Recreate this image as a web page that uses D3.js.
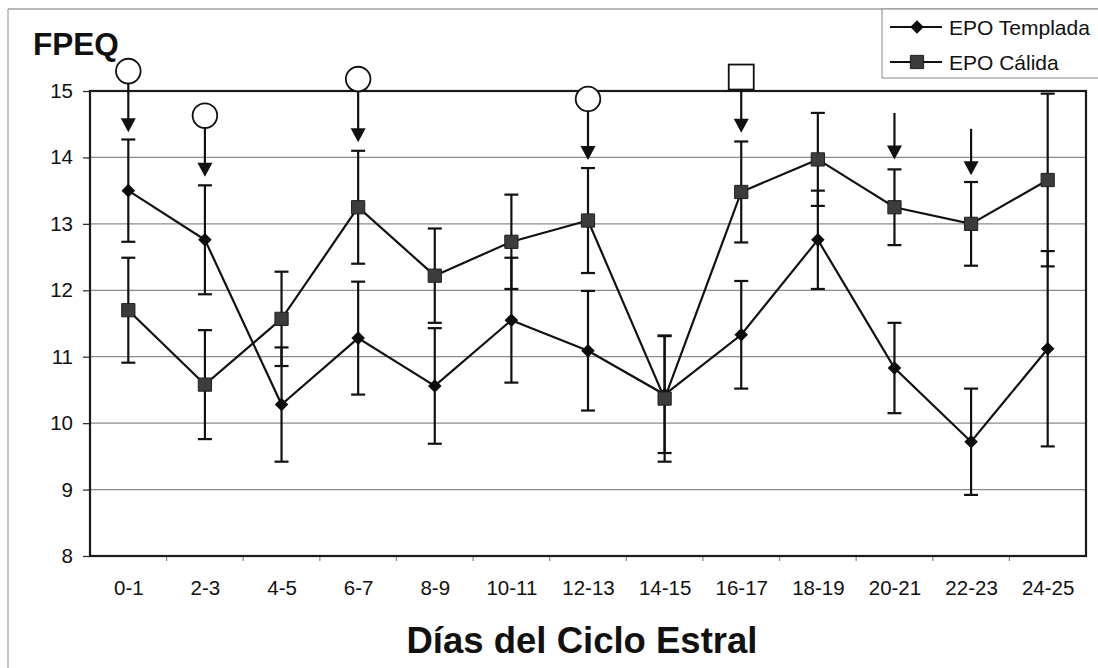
<!DOCTYPE html>
<html>
<head>
<meta charset="utf-8">
<script src="https://cdn.jsdelivr.net/npm/d3@7"></script>
<style>
  html, body { margin: 0; padding: 0; background: #fff; }
  svg { display: block; font-family: "Liberation Sans", Arial, sans-serif; }
</style>
</head>
<body>
<svg id="chart" width="1098" height="668"></svg>
<script>
// ---- data ----
const categories = ["0-1","2-3","4-5","6-7","8-9","10-11","12-13","14-15","16-17","18-19","20-21","22-23","24-25"];
const templada    = [13.50, 12.76, 10.28, 11.28, 10.56, 11.55, 11.09, 10.43, 11.33, 12.76, 10.83, 9.72, 11.12];
const templadaErr = [0.77, 0.82, 0.86, 0.85, 0.87, 0.94, 0.90, 0.88, 0.81, 0.74, 0.68, 0.80, 1.47];
const calida      = [11.70, 10.58, 11.57, 13.25, 12.22, 12.73, 13.05, 10.37, 13.48, 13.97, 13.25, 13.00, 13.66];
const calidaErr   = [0.79, 0.82, 0.71, 0.85, 0.71, 0.71, 0.79, 0.95, 0.76, 0.70, 0.57, 0.63, 1.30];
const yTicks = [8, 9, 10, 11, 12, 13, 14, 15];
const seriesNames = ["EPO Templada", "EPO Cálida"];
// significance annotations (value units)
const annotCats  = ["0-1","2-3","6-7","12-13","16-17","20-21","22-23"];
const annotShape = ["circle","circle","circle","circle","square","none","none"];
const annotTop   = [15.30, 14.63, 15.18, 14.88, 15.21, 14.67, 14.43];
const annotTip   = [14.38, 13.71, 14.23, 13.96, 14.37, 13.97, 13.73];

// ---- layout ----
const svg = d3.select("#chart");
const mLeft = 90, mRight = 1086, mTop = 91, mBottom = 556;
const ink = "#111";
const sw = 2.2;

const x = d3.scalePoint().domain(categories).range([mLeft, mRight]).padding(0.5);
const step = x.step();
const y = d3.scaleLinear().domain([8, 15]).range([mBottom, mTop]);

// outer chart frame (faint)
svg.append("line").attr("x1", 8).attr("x2", 8).attr("y1", 9).attr("y2", 668)
  .attr("stroke", "#b5b5b5").attr("stroke-width", 1.5);
svg.append("line").attr("x1", 8).attr("x2", 1098).attr("y1", 9).attr("y2", 9)
  .attr("stroke", "#a0a0a0").attr("stroke-width", 1.5);

// gridlines
svg.append("g").selectAll("line").data(yTicks.filter(t => t > 8 && t < 15)).join("line")
  .attr("x1", mLeft).attr("x2", mRight)
  .attr("y1", d => y(d)).attr("y2", d => y(d))
  .attr("stroke", "#8c8c8c").attr("stroke-width", 1.3);

// y axis
const yAxis = svg.append("g").attr("transform", `translate(${mLeft},0)`)
  .call(d3.axisLeft(y).tickValues(yTicks).tickSize(7).tickPadding(10).tickFormat(d3.format("d")));
yAxis.select(".domain").remove();
yAxis.selectAll(".tick line").attr("stroke", "#333").attr("stroke-width", 1.3);
yAxis.selectAll("text").attr("font-size", 20.5).attr("fill", ink)
  .attr("font-family", "'Liberation Sans', Arial, sans-serif");

// x axis
const xAxis = svg.append("g").attr("transform", `translate(0,${mBottom})`)
  .call(d3.axisBottom(x).tickSize(0).tickPadding(24));
xAxis.select(".domain").remove();
xAxis.selectAll("text").attr("font-size", 20.5).attr("fill", ink)
  .attr("font-family", "'Liberation Sans', Arial, sans-serif");
// small ticks at category boundaries
svg.append("g").selectAll("line").data(categories.slice(1)).join("line")
  .attr("x1", d => x(d) - step / 2).attr("x2", d => x(d) - step / 2)
  .attr("y1", mBottom).attr("y2", mBottom + 5)
  .attr("stroke", "#888").attr("stroke-width", 1.2);

// plot frame
svg.append("rect").attr("x", mLeft).attr("y", mTop).attr("width", mRight - mLeft).attr("height", mBottom - mTop)
  .attr("fill", "none").attr("stroke", "#1a1a1a").attr("stroke-width", 2.2);

// error bars
function errorBars(vals, errs) {
  const g = svg.append("g").attr("stroke", ink).attr("stroke-width", sw);
  categories.forEach((c, i) => {
    const cx = x(c), hi = y(vals[i] + errs[i]), lo = y(vals[i] - errs[i]);
    g.append("line").attr("x1", cx).attr("x2", cx).attr("y1", hi).attr("y2", lo);
    g.append("line").attr("x1", cx - 7).attr("x2", cx + 7).attr("y1", hi).attr("y2", hi);
    g.append("line").attr("x1", cx - 7).attr("x2", cx + 7).attr("y1", lo).attr("y2", lo);
  });
}
errorBars(templada, templadaErr);
errorBars(calida, calidaErr);

// lines
const line = d3.line().x((d, i) => x(categories[i])).y(d => y(d));
svg.append("path").datum(templada).attr("d", line).attr("fill", "none").attr("stroke", ink).attr("stroke-width", sw);
svg.append("path").datum(calida).attr("d", line).attr("fill", "none").attr("stroke", ink).attr("stroke-width", sw);

// markers
const diamond = d3.symbol().type(d3.symbolSquare).size(92);
const square = d3.symbol().type(d3.symbolSquare).size(175);
svg.append("g").selectAll("path").data(templada).join("path")
  .attr("d", diamond)
  .attr("transform", (d, i) => `translate(${x(categories[i])},${y(d)}) rotate(45)`)
  .attr("fill", "#0d0d0d");
svg.append("g").selectAll("path").data(calida).join("path")
  .attr("d", square)
  .attr("transform", (d, i) => `translate(${x(categories[i])},${y(d)})`)
  .attr("fill", "#3c3c3c").attr("stroke", "#1e1e1e").attr("stroke-width", 1);

// annotations: markers + arrows
const ag = svg.append("g");
annotCats.forEach((c, i) => {
  const cx = x(c);
  const yTop = y(annotTop[i]);
  const yTip = y(annotTip[i]);
  let lineStart = yTop;
  if (annotShape[i] === "circle") {
    ag.append("circle").attr("cx", cx).attr("cy", yTop).attr("r", 12.3)
      .attr("fill", "#fff").attr("stroke", ink).attr("stroke-width", 1.8);
    lineStart = yTop + 12.3;
  } else if (annotShape[i] === "square") {
    ag.append("rect").attr("x", cx - 12.5).attr("y", yTop - 12.5).attr("width", 25).attr("height", 25)
      .attr("fill", "#fff").attr("stroke", ink).attr("stroke-width", 1.8);
    lineStart = yTop + 12.5;
  }
  ag.append("line").attr("x1", cx).attr("x2", cx).attr("y1", lineStart).attr("y2", yTip - 10)
    .attr("stroke", ink).attr("stroke-width", sw);
  ag.append("path")
    .attr("d", `M${cx - 7.5},${yTip - 14}L${cx + 7.5},${yTip - 14}L${cx},${yTip}Z`)
    .attr("fill", ink);
});

// y-axis title
svg.append("text").attr("x", 33).attr("y", 55).text("FPEQ")
  .attr("font-size", 31.5).attr("font-weight", "bold").attr("fill", ink);

// x-axis title
svg.append("text").attr("x", 582).attr("y", 653).attr("text-anchor", "middle")
  .text("Días del Ciclo Estral")
  .attr("font-size", 36.5).attr("font-weight", "bold").attr("fill", ink);

// legend
const lg = svg.append("g");
lg.append("rect").attr("x", 882).attr("y", 9).attr("width", 240).attr("height", 69)
  .attr("fill", "#fff").attr("stroke", "#999").attr("stroke-width", 1.2);
const legendY = [27, 62];
seriesNames.forEach((name, i) => {
  const ly = legendY[i];
  lg.append("line").attr("x1", 890).attr("x2", 942).attr("y1", ly).attr("y2", ly)
    .attr("stroke", ink).attr("stroke-width", sw);
  if (i === 0) {
    lg.append("path").attr("d", diamond).attr("transform", `translate(917,${ly}) rotate(45)`).attr("fill", "#0d0d0d");
  } else {
    lg.append("path").attr("d", square).attr("transform", `translate(917,${ly})`)
      .attr("fill", "#3c3c3c").attr("stroke", "#1e1e1e").attr("stroke-width", 1);
  }
  lg.append("text").attr("x", 949).attr("y", ly + 8).text(name)
    .attr("font-size", 21).attr("fill", ink);
});
</script>
</body>
</html>
